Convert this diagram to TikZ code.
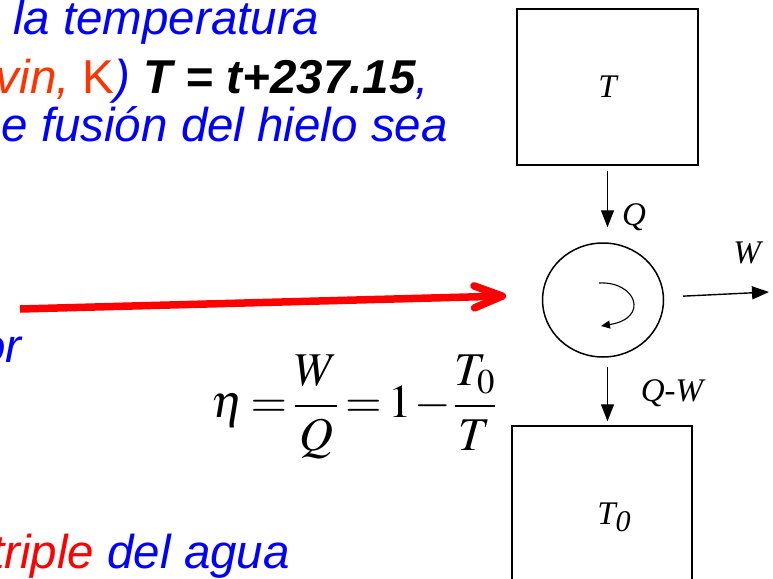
\documentclass[tikz,border=0pt]{standalone}
\usepackage{mathptmx}
\usepackage[no-math]{fontspec}
\setmainfont{Liberation Serif}
\setsansfont{Liberation Sans}
\usetikzlibrary{positioning,shapes.geometric,arrows.meta}

\definecolor{slideblue}{RGB}{0,0,255}
\definecolor{slidered}{RGB}{255,0,0}
\definecolor{kelvinred}{RGB}{255,51,0}

\begin{document}
\begin{tikzpicture}[x=1pt, y=-1pt,
  every node/.style={inner sep=0pt, font=\fontsize{33}{40}\selectfont\itshape},
  slide/.style={font=\sffamily\itshape\fontsize{47.5}{56}\selectfont, text=slideblue, anchor=base west},
  reservoir/.style={draw, line width=1.5pt, minimum width=181pt, minimum height=156pt},
  flow/.style={-{Triangle[length=17pt,width=13pt]}, line width=1.4pt}]
\useasboundingbox (0,0) rectangle (773,578);
\clip (0,0) rectangle (773,578);

% slide text, cut at the left edge
\node (line1) [slide] at (13,35) {la temperatura};
\node (line2) [slide, anchor=base east] at (429,93) {\textcolor{kelvinred}{vin, \upshape K})
  \textcolor{black}{\bfseries T = t+237.15},};
\node (line3) [slide, anchor=base east] at (448,141) {e fusión del hielo sea};
\node (line4) [slide, anchor=base east] at (22,362) {or};
\node (line5) [slide, anchor=base east] at (290,568) {\textcolor{slidered}{triple} del agua};

% pointer
\coordinate (pointer) at (20,309);
\coordinate (aim) at (506,296);
\draw[slidered, line width=7.5pt, -{Straight Barb[length=28pt,width=22pt,round]}] (pointer) -- (aim);

% efficiency
\node (eta) at (354,407) {\fontsize{47}{56}\selectfont \thickmuskip=2.5mu \medmuskip=1mu
  $\displaystyle \eta = \frac{W}{Q} = 1 - \frac{T_0}{T}$};

% reservoirs and engine
\node (hot) [reservoir] at (607.5,87) {T};
\node (engine) [ellipse, draw, line width=1.5pt, minimum width=121pt, minimum height=114pt] at (603,300) {};
\node (cold) [reservoir, minimum width=180pt, minimum height=180pt] at (602,516) {};
\node (coldname) at (614,517) {T\raisebox{-7pt}{\fontsize{30}{36}\selectfont 0}};

% heat and work
\draw[flow, shorten <=5pt, shorten >=15pt] (hot.south) -- (hot.south |- engine.north);
\node (q) at (634,217) {Q};
\draw[flow, shorten <=9pt, shorten >=4pt] (hot.south |- engine.south) -- (hot.south |- cold.north);
\node (qw) at (672,393) {Q-W};
\coordinate (wout) at (769,292);
\draw[flow, shorten <=19pt] (engine) -- (wout);
\node (w) at (747,253) {W};

% cycle
\draw[line width=1.1pt, -{Triangle[length=9pt,width=8pt]}] (599,283) .. controls (636,281) and (650,318) .. (601,326);
\end{tikzpicture}
\end{document}
